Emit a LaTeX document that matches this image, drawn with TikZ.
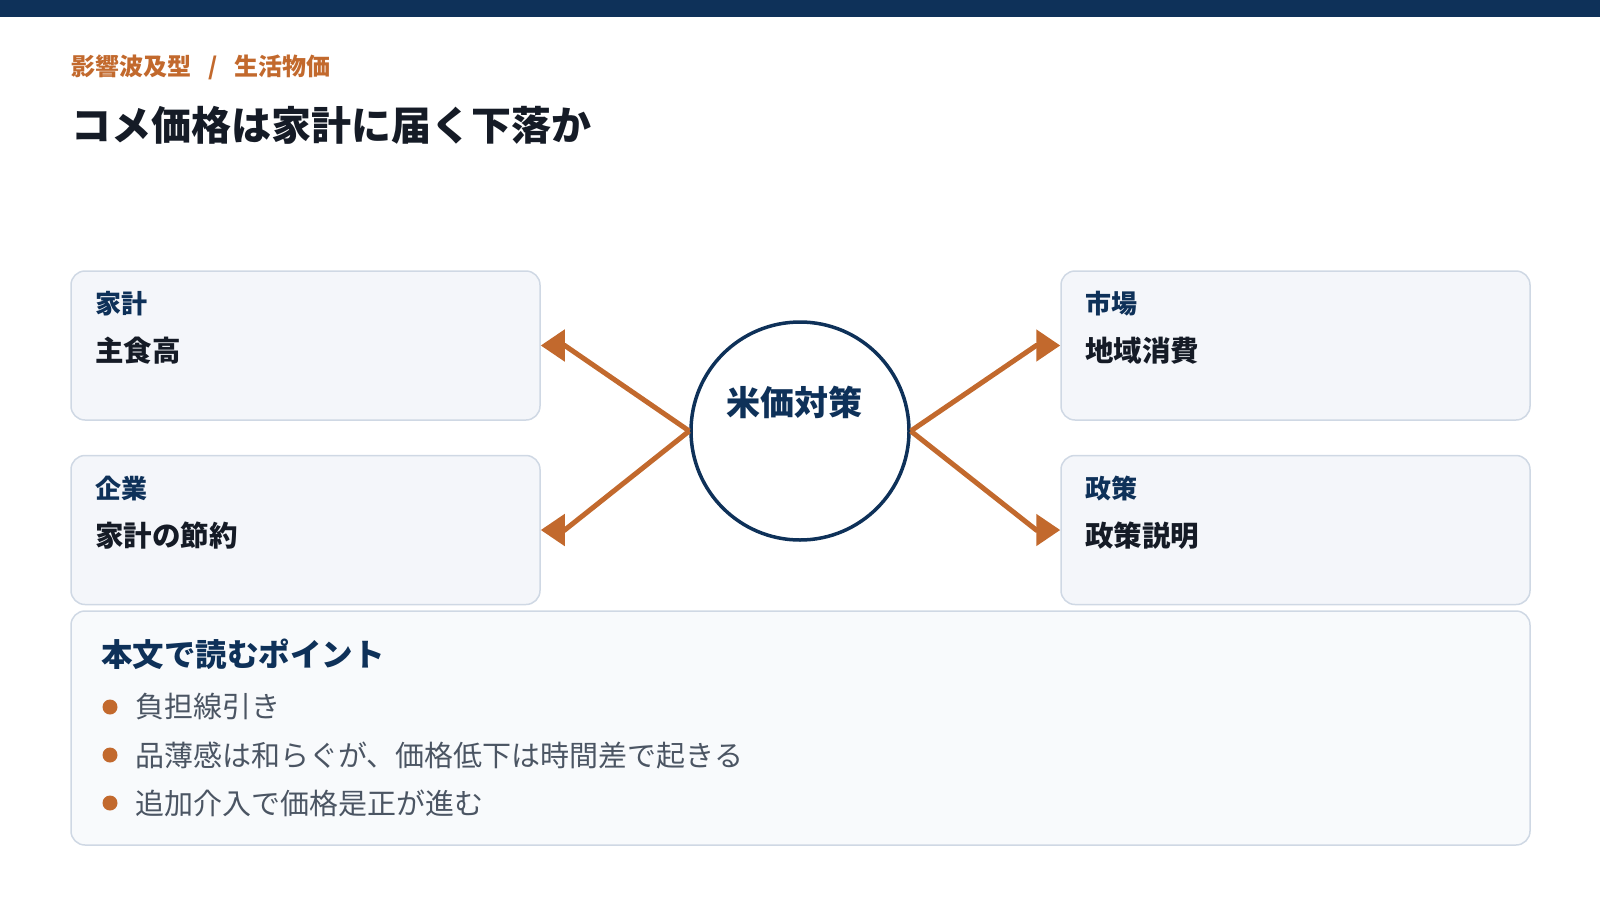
\documentclass[tikz,border=0pt]{standalone}
\usepackage{fontspec}
\setmainfont{Noto Sans CJK JP}
\usepackage{tikz}
\usetikzlibrary{arrows.meta}

\definecolor{navy}{HTML}{0E3159}
\definecolor{rust}{HTML}{C2692D}
\definecolor{edge}{HTML}{CFD8E4}
\definecolor{cardfill}{HTML}{F4F6FA}
\definecolor{notefill}{HTML}{F8FAFC}
\definecolor{ink}{HTML}{151B26}
\definecolor{body}{HTML}{4B5563}
\newcommand{\fsz}[1]{\fontsize{#1}{#1}\selectfont}

\begin{document}
\begin{tikzpicture}[x=1pt, y=-1pt,
	card/.style={draw=edge, line width=1.5pt, fill=cardfill, rounded corners=14pt,
		minimum width=469pt, minimum height=149pt, inner sep=0pt},
	tag/.style={anchor=west, inner sep=0pt, text=navy, font=\fsz{26}\bfseries},
	val/.style={anchor=west, inner sep=0pt, text=ink, font=\fsz{28.5}\bfseries},
	link/.style={color=rust, line width=5pt, -{Triangle[length=24pt, width=31pt]}},
	pt/.style={anchor=west, inner sep=0pt, text=body, font=\fsz{29}},
	dot/.style={circle, fill=rust, inner sep=0pt, minimum size=15pt}]
\useasboundingbox (0,0) rectangle (1600,900);
\fill[navy] (0,0) rectangle (1600,16.5);

% heading
\node[anchor=west, inner sep=0pt, text=rust, font=\fsz{24}\bfseries] (crumb) at (71,67)
	{影響波及型\hspace{17pt}/\hspace{17pt}生活物価};
\node[anchor=west, inner sep=0pt, text=ink, font=\fsz{40}\bfseries] (title) at (71,125)
	{コメ価格は家計に届く下落か};

% cards
\node[card] (hh) at (305.5,345.5) {};
\node[card] (firm) at (305.5,530) {};
\node[card] (mkt) at (1295.5,345.5) {};
\node[card] (gov) at (1295.5,530) {};

\node[tag] (hhT) at (95,304) {家計};
\node[val] (hhV) at (95,351) {主食高};
\node[tag] (firmT) at (95,489) {企業};
\node[val] (firmV) at (95,536) {家計の節約};
\node[tag] (mktT) at (1085,304) {市場};
\node[val] (mktV) at (1085,351) {地域消費};
\node[tag] (govT) at (1085,489) {政策};
\node[val] (govV) at (1085,536) {政策説明};

% hub
\node[circle, draw=navy, line width=3.5pt, fill=white, minimum size=218pt, inner sep=0pt] (rice) at (800,431) {};
\node[inner sep=0pt, text=navy, font=\fsz{34}\bfseries] (riceT) at (794,402) {米価対策};

% flat heads: last short leg is horizontal
\draw[link] (rice.west) -- ([xshift=24pt]hh.east) -- (hh.east);
\draw[link] (rice.west) -- ([xshift=24pt]firm.east) -- (firm.east);
\draw[link] (rice.east) -- ([xshift=-24pt]mkt.west) -- (mkt.west);
\draw[link] (rice.east) -- ([xshift=-24pt]gov.west) -- (gov.west);

% reading points
\node[draw=edge, line width=1.5pt, fill=notefill, rounded corners=14pt,
	minimum width=1459pt, minimum height=234pt, inner sep=0pt] (note) at (800.5,728) {};
\node[anchor=west, inner sep=0pt, text=navy, font=\fsz{31.5}\bfseries] (noteT) at (101,654) {本文で読むポイント};
\foreach \t [count=\i] in {負担線引き, 品薄感は和らぐが、価格低下は時間差で起きる, 追加介入で価格是正が進む}
{
	\node[dot] (b\i) at (110,{659+48*\i}) {};
	\node[pt] (p\i) at (135,{659+48*\i}) {\t};
}
\end{tikzpicture}
\end{document}
